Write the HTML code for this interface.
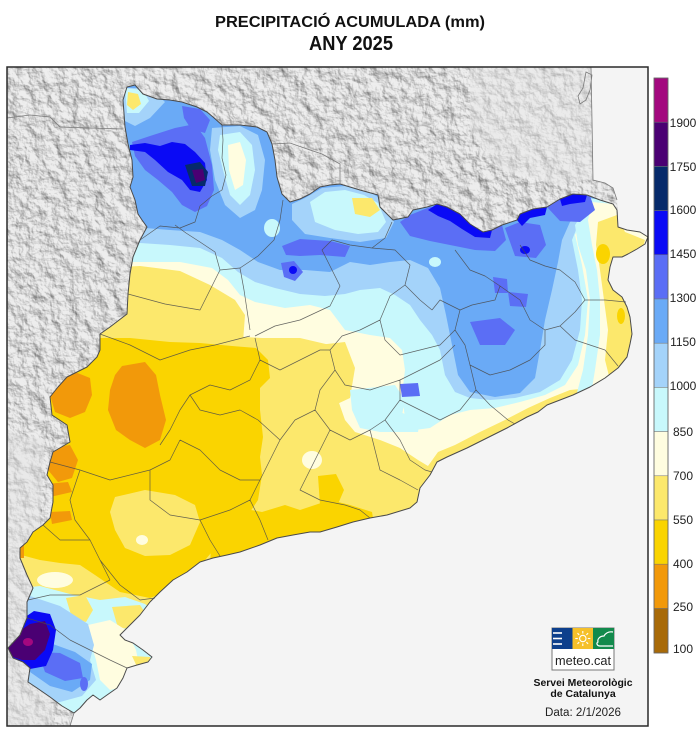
<!DOCTYPE html>
<html><head><meta charset="utf-8"><style>
html,body{margin:0;padding:0;background:#fff;}
svg{display:block;}
text{font-family:"Liberation Sans",Arial,sans-serif;}
</style></head><body>
<svg width="700" height="733" viewBox="0 0 700 733" xmlns="http://www.w3.org/2000/svg">
<defs>
<clipPath id="cat"><path d="M127,87 L135,85 L143,94 L157,99 L170,100 L182,102 L197,107 L207,112 L213,117 L222,125 L240,125 L257,127 L267,132 L272,144 L275,160 L277,177 L282,194 L290,202 L300,199 L310,194 L320,187 L330,185 L340,184 L360,190 L378,195 L380,207 L393,220 L408,217 L413,210 L427,207 L437,204 L447,207 L460,214 L470,224 L483,232 L492,230 L502,225 L517,220 L520,214 L533,209 L547,207 L560,199 L573,194 L587,195 L600,200 L613,204 L617,210 L618,227 L627,230 L640,232 L648,237 L645,244 L637,249 L628,254 L622,257 L613,257 L610,267 L608,280 L613,290 L622,297 L627,307 L630,317 L632,334 L630,344 L627,357 L618,368 L605,378 L590,387 L573,395 L560,400 L547,405 L538,412 L527,417 L507,428 L487,438 L467,448 L447,457 L437,462 L430,475 L420,488 L417,502 L410,508 L387,515 L370,518 L353,522 L337,527 L320,532 L310,532 L293,535 L277,538 L260,545 L240,552 L227,555 L213,558 L200,562 L187,572 L173,580 L160,592 L150,602 L140,615 L127,628 L120,635 L125,640 L133,643 L143,650 L152,657 L148,662 L137,665 L127,668 L123,678 L117,688 L107,695 L100,700 L93,695 L87,700 L80,708 L74,713 L62,706 L50,697 L37,688 L28,682 L30,668 L23,662 L13,658 L8,648 L20,635 L27,618 L27,602 L33,588 L27,575 L20,558 L20,548 L27,542 L33,532 L43,525 L50,518 L53,502 L53,485 L47,475 L50,462 L53,452 L70,442 L67,425 L52,415 L50,397 L58,387 L67,377 L87,367 L97,357 L100,350 L100,334 L110,327 L127,314 L128,294 L130,274 L133,257 L140,240 L147,227 L142,220 L138,214 L135,200 L130,187 L133,177 L132,160 L128,144 L125,127 L123,100 Z"/></clipPath>
<clipPath id="land"><path d="M7,67 L591,67 L592,120 L593,180 L605,183 L613,188 L617,200 L618,220 L500,300 L300,400 L100,600 L60,690 L74,713 L70,726 L7,726 Z"/></clipPath>
<filter id="hs" x="0" y="0" width="1" height="1" color-interpolation-filters="sRGB">
  <feTurbulence type="fractalNoise" baseFrequency="0.08" numOctaves="4" seed="7"/>
  <feDiffuseLighting surfaceScale="3" diffuseConstant="1.15" lighting-color="#f0f0f0">
    <feDistantLight azimuth="315" elevation="55"/>
  </feDiffuseLighting>
</filter>
</defs>

<rect width="700" height="733" fill="#ffffff"/>
<rect x="7" y="67" width="641" height="659" fill="#f4f4f4"/>
<g clip-path="url(#land)">
  <rect x="7" y="67" width="641" height="659" fill="#d4d4d4"/>
  <rect x="7" y="67" width="641" height="659" filter="url(#hs)" opacity="0.6"/>
  <path d="M7,430 L45,440 L35,600 L55,726 L7,726 Z" fill="#e6e6e6" opacity="0.5"/>
  <path d="M470,67 L591,67 L593,180 L560,185 L500,170 L470,130 Z" fill="#e6e6e6" opacity="0.45"/>
</g>

<g clip-path="url(#cat)">
  <rect x="0" y="60" width="660" height="680" fill="#fce86c"/>
  <path fill="#fad400" d="M95,338 L130,338 L170,342 L200,343 L232,346 L256,348 L268,360 L270,378 L260,388 L260,410 L263,437 L260,457 L262,475 L258,500 L250,512 L228,510 L215,522 L222,540 L200,566 L170,590 L150,598 L120,592 L95,575 L80,565 L60,563 L40,560 L25,556 L0,550 L0,360 L60,368 Z"/>
  <path fill="#fad400" d="M213,512 L240,508 L262,512 L285,505 L300,510 L330,500 L350,505 L372,512 L375,530 L330,540 L280,545 L240,560 L210,565 Z"/>
  <path fill="#fad400" d="M318,476 L336,474 L344,490 L338,504 L320,505 Z"/>
  <path fill="#fce86c" d="M115,497 L145,490 L175,495 L195,505 L200,522 L190,545 L170,555 L145,556 L125,548 L115,530 L110,512 Z"/>
  <ellipse cx="142" cy="540" rx="6" ry="5" fill="#fffde0"/>
  <ellipse cx="55" cy="580" rx="18" ry="8" fill="#fffde0"/>
  <g fill="#f2990a">
    <path d="M122,366 L145,362 L156,375 L160,395 L166,420 L160,440 L145,448 L130,440 L116,430 L108,410 L110,390 L115,375 Z"/>
    <path d="M58,378 L75,372 L90,378 L92,395 L85,412 L70,418 L55,412 L50,395 Z"/>
    <path d="M50,448 L70,445 L78,460 L72,478 L58,482 L48,470 Z"/>
    <path d="M46,484 L68,482 L72,492 L50,497 Z"/>
    <path d="M50,512 L70,511 L72,520 L52,524 Z"/>
    <path d="M18,544 L24,544 L24,558 L18,558 Z"/>
  </g>
  <ellipse cx="312" cy="460" rx="10" ry="9" fill="#fffde0"/>
  <path fill="#fffde0" d="M0,0 L700,0 L700,378 L570,390 L550,398 L528,408 L505,420 L480,432 L455,445 L438,452 L428,466 L418,460 L400,448 L380,440 L355,432 L345,420 L338,400 L340,370 L330,345 L300,338 L262,338 L230,336 L200,330 L170,325 L0,325 Z"/>
  <path fill="#fce86c" d="M318,345 L345,342 L355,368 L350,398 L335,405 L322,390 L315,365 Z"/>
  <path fill="#c8f8fc" d="M0,0 L700,0 L700,200 L620,202 L600,205 L585,215 L575,235 L582,265 L588,300 L585,335 L578,365 L565,385 L545,395 L520,402 L495,408 L470,410 L450,415 L430,428 L415,430 L405,418 L402,395 L405,370 L402,350 L390,338 L370,335 L345,330 L330,310 L310,305 L285,308 L255,302 L240,295 L228,280 L212,268 L180,262 L130,262 L0,262 Z"/>
  <path fill="#c8f8fc" d="M363,415 L400,412 L420,420 L418,432 L380,432 L365,425 Z"/>
  <path fill="#c8f8fc" d="M350,390 L395,385 L405,400 L400,425 L380,432 L360,428 L352,410 Z"/>
  <path fill="#fce86c" d="M100,268 L140,266 L180,271 L210,285 L235,300 L245,315 L243,342 L200,342 L130,337 L100,334 Z"/>
  <path fill="#a4d3fa" d="M0,0 L700,0 L700,200 L600,203 L582,215 L572,240 L578,270 L582,300 L580,330 L572,360 L560,380 L540,392 L515,398 L490,400 L470,398 L455,392 L445,375 L440,350 L432,335 L420,320 L410,305 L395,295 L380,288 L360,290 L345,294 L325,296 L300,294 L275,288 L255,282 L238,272 L222,258 L200,248 L170,245 L140,243 L0,243 Z"/>
  <path fill="#6aaaf6" d="M0,0 L700,0 L700,200 L600,203 L585,212 L570,222 L562,240 L558,262 L552,290 L545,320 L540,350 L535,378 L520,393 L495,397 L470,392 L458,375 L452,345 L446,315 L440,288 L428,268 L410,260 L390,262 L370,265 L350,262 L330,272 L305,270 L280,270 L258,262 L240,250 L222,240 L200,232 L170,230 L145,228 L0,228 Z"/>
  <path fill="#a4d3fa" d="M123,88 L150,88 L165,102 L150,118 L135,126 L123,120 Z"/>
  <path fill="#c8f8fc" d="M125,88 L143,90 L149,101 L139,113 L127,113 Z"/>
  <path fill="#fce86c" d="M128,92 L138,94 L141,104 L133,110 L127,105 Z"/>
  <path fill="#a4d3fa" d="M212,128 L240,126 L258,135 L265,160 L262,190 L255,210 L240,218 L225,205 L215,180 L210,150 Z"/>
  <path fill="#c8f8fc" d="M220,135 L240,132 L252,145 L255,170 L250,195 L240,205 L230,195 L223,170 L218,150 Z"/>
  <path fill="#fffde0" d="M228,145 L240,142 L246,160 L243,185 L235,190 L229,170 Z"/>
  <path fill="#a4d3fa" d="M292,204 L305,198 L322,188 L345,186 L368,191 L383,200 L394,222 L386,238 L360,242 L330,238 L305,234 L292,220 Z"/>
  <path fill="#c8f8fc" d="M310,202 L325,192 L345,190 L364,195 L378,203 L386,222 L378,232 L358,234 L335,230 L315,222 Z"/>
  <path fill="#fce86c" d="M352,198 L372,198 L380,210 L370,217 L355,214 Z"/>
  <ellipse cx="435" cy="262" rx="6" ry="5" fill="#c8f8fc"/>
  <ellipse cx="272" cy="228" rx="8" ry="9" fill="#c8f8fc"/>
  <path fill="#c8f8fc" d="M588,198 L605,200 L650,225 L650,400 L575,400 L583,370 L588,335 L590,300 L586,270 L578,245 L575,225 L585,210 Z"/>
  <path fill="#fffde0" d="M592,202 L613,204 L650,235 L650,400 L590,400 L595,370 L600,335 L600,300 L597,270 L592,245 L588,220 Z"/>
  <path fill="#fce86c" d="M598,222 L617,215 L625,232 L645,240 L640,258 L628,262 L620,272 L632,295 L636,320 L630,350 L622,372 L610,380 L605,360 L608,330 L604,300 L600,270 L596,245 Z"/>
  <ellipse cx="603" cy="254" rx="7" ry="10" fill="#fad400"/>
  <ellipse cx="621" cy="316" rx="4" ry="8" fill="#fad400"/>
  <g fill="#5b6ef5">
    <path d="M132,142 L150,136 L175,128 L195,124 L205,138 L212,165 L214,190 L207,206 L195,212 L182,205 L172,192 L158,180 L145,170 L135,156 Z"/>
    <path d="M182,106 L200,109 L210,120 L205,133 L191,129 L184,118 Z"/>
    <path d="M282,246 L300,239 L330,241 L350,246 L345,257 L320,255 L300,256 L286,255 Z"/>
    <path d="M281,263 L294,261 L303,272 L295,281 L284,277 Z"/>
    <path d="M400,222 L410,215 L430,207 L447,207 L460,214 L470,224 L483,232 L492,230 L502,225 L506,240 L495,251 L475,250 L455,246 L430,241 L410,236 Z"/>
    <path d="M505,228 L520,222 L540,225 L546,245 L536,258 L515,256 Z"/>
    <path d="M547,207 L560,199 L573,194 L590,196 L595,210 L580,222 L560,221 Z"/>
    <path d="M493,277 L507,279 L508,293 L495,293 Z"/>
    <path d="M508,292 L528,294 L526,307 L510,306 Z"/>
    <path d="M470,322 L500,318 L515,330 L505,345 L480,345 Z"/>
    <path d="M400,384 L418,383 L420,396 L402,397 Z"/>
  </g>
  <g fill="#0a0af5">
    <path d="M130,145 L145,143 L160,146 L172,142 L185,144 L195,152 L205,163 L207,180 L200,192 L190,190 L182,180 L168,172 L155,160 L145,152 L130,150 Z"/>
    <path d="M428,210 L437,204 L447,207 L460,214 L470,224 L483,232 L492,230 L490,238 L475,237 L462,229 L450,221 L438,216 Z"/>
    <path d="M517,220 L520,214 L533,209 L547,207 L545,215 L530,218 L522,226 Z"/>
    <path d="M560,199 L573,194 L587,195 L585,202 L570,204 L562,206 Z"/>
    <ellipse cx="525" cy="250" rx="5" ry="4"/>
    <ellipse cx="293" cy="270" rx="4" ry="4"/>
  </g>
  <path fill="#062a6b" d="M185,165 L200,162 L208,172 L205,186 L192,186 Z"/>
  <path fill="#4a0073" d="M192,170 L203,169 L205,180 L196,183 Z"/>
  <path fill="#c8f8fc" d="M0,590 L40,586 L70,594 L100,600 L125,597 L145,604 L165,620 L165,705 L0,730 Z"/>
  <path fill="#fce86c" d="M66,598 L85,595 L93,610 L86,622 L72,618 Z"/>
  <path fill="#fce86c" d="M112,607 L140,605 L150,620 L140,629 L118,628 Z"/>
  <path fill="#fffde0" d="M88,625 L110,620 L126,630 L136,650 L140,670 L127,686 L110,690 L100,680 L96,660 L90,640 Z"/>
  <path fill="#fce86c" d="M132,656 L150,657 L153,670 L140,673 Z"/>
  <path fill="#a4d3fa" d="M0,598 L30,596 L60,606 L88,624 L94,645 L90,660 L96,680 L82,696 L60,702 L40,702 L25,692 L0,692 Z"/>
  <path fill="#6aaaf6" d="M15,638 L50,643 L75,652 L92,664 L90,680 L72,692 L50,686 L30,672 L12,662 Z"/>
  <path fill="#5b6ef5" d="M38,652 L60,653 L80,663 L83,678 L65,681 L45,672 Z"/>
  <ellipse cx="84" cy="684" rx="4" ry="7" fill="#5b6ef5"/>
  <path fill="#0a0af5" d="M4,640 L18,622 L34,611 L50,614 L56,630 L53,650 L46,666 L30,669 L14,661 Z"/>
  <path fill="#4a0073" d="M7,646 L15,634 L30,624 L45,621 L50,634 L45,650 L35,660 L22,660 L10,656 Z"/>
  <ellipse cx="28" cy="642" rx="5" ry="4" fill="#a3087f"/>
</g>

<path fill="none" stroke="#4a4a4a" stroke-width="0.7" stroke-linejoin="round" opacity="0.85" d="
M140,240 L160,226 L180,228 L195,222 L200,206 L212,196 L222,190 L226,175 L222,158 L223,140 L222,125
M128,294 L165,304 L200,310 L210,290 L220,270 L215,252 L200,242 L186,233 L175,225
M220,270 L240,268 L258,256 L274,240 L280,220 L283,200
M250,330 L247,310 L244,290 L240,268
M255,336 L275,326 L300,320 L330,306 L340,286 L330,266 L322,250 L332,240 L350,245 L372,248 L385,238 L392,222
M372,248 L395,250 L410,265 L405,285 L420,300 L432,310
M405,285 L390,296 L380,320 L385,340 L400,355 L420,350 L440,345 L455,330 L460,310 L440,300 L432,310
M455,250 L470,270 L485,276 L500,286 L495,300 L472,305 L460,310
M520,245 L530,260 L545,266 L560,270 L575,282 L585,300 L605,300 L626,302
M500,286 L520,300 L530,320 L545,330 L560,326 L575,312 L585,300
M455,330 L465,345 L470,365 L490,375 L510,370 L530,360 L545,345 L545,330
M560,326 L575,340 L590,345 L605,350 L618,366
M470,365 L476,390 L490,405 L508,420 L515,424
M380,320 L360,330 L342,336 L330,350 L335,370 L345,385 L370,390 L400,380 L420,370 L440,360 L455,345
M335,370 L320,390 L315,410 L330,430 L350,440 L370,430 L385,420 L400,400 L400,380
M400,400 L420,410 L440,420 L460,410 L476,390
M385,420 L400,440 L410,460 L425,470 L432,472
M370,430 L375,450 L380,470 L400,480 L418,490
M330,430 L320,450 L310,470 L300,490 L320,500 L345,505 L360,510 L370,518
M315,410 L295,420 L280,440 L270,460 L260,480 L250,500 L260,520 L268,540
M255,338 L260,360 L250,380 L230,390 L210,385 L190,395 L180,410 L170,430 L160,445
M100,334 L130,345 L160,360 L190,350 L215,345 L250,336
M50,462 L80,470 L110,480 L150,470 L170,460 L180,440
M180,440 L200,450 L220,470 L240,480 L260,480
M80,470 L70,500 L75,520 L90,540 L100,560 L110,580
M150,470 L150,500 L170,515 L200,520 L230,510 L250,500
M200,520 L210,540 L220,556
M43,525 L60,540 L90,540
M100,560 L120,585 L140,600 L155,598
M110,580 L80,595 L50,595 L28,600
M27,618 L50,625 L70,640 L90,650 L110,660 L127,668
M190,395 L200,410 L220,415 L240,410 L258,420 L280,440
M260,360 L280,370 L300,360 L320,350 L330,350"/>

<path fill="none" stroke="#4a4a4a" stroke-width="1" stroke-linejoin="round" d="M127,87 L135,85 L143,94 L157,99 L170,100 L182,102 L197,107 L207,112 L213,117 L222,125 L240,125 L257,127 L267,132 L272,144 L275,160 L277,177 L282,194 L290,202 L300,199 L310,194 L320,187 L330,185 L340,184 L360,190 L378,195 L380,207 L393,220 L408,217 L413,210 L427,207 L437,204 L447,207 L460,214 L470,224 L483,232 L492,230 L502,225 L517,220 L520,214 L533,209 L547,207 L560,199 L573,194 L587,195 L600,200 L613,204 L617,210 L618,227 L627,230 L640,232 L648,237 L645,244 L637,249 L628,254 L622,257 L613,257 L610,267 L608,280 L613,290 L622,297 L627,307 L630,317 L632,334 L630,344 L627,357 L618,368 L605,378 L590,387 L573,395 L560,400 L547,405 L538,412 L527,417 L507,428 L487,438 L467,448 L447,457 L437,462 L430,475 L420,488 L417,502 L410,508 L387,515 L370,518 L353,522 L337,527 L320,532 L310,532 L293,535 L277,538 L260,545 L240,552 L227,555 L213,558 L200,562 L187,572 L173,580 L160,592 L150,602 L140,615 L127,628 L120,635 L125,640 L133,643 L143,650 L152,657 L148,662 L137,665 L127,668 L123,678 L117,688 L107,695 L100,700 L93,695 L87,700 L80,708 L74,713 L62,706 L50,697 L37,688 L28,682 L30,668 L23,662 L13,658 L8,648 L20,635 L27,618 L27,602 L33,588 L27,575 L20,558 L20,548 L27,542 L33,532 L43,525 L50,518 L53,502 L53,485 L47,475 L50,462 L53,452 L70,442 L67,425 L52,415 L50,397 L58,387 L67,377 L87,367 L97,357 L100,350 L100,334 L110,327 L127,314 L128,294 L130,274 L133,257 L140,240 L147,227 L142,220 L138,214 L135,200 L130,187 L133,177 L132,160 L128,144 L125,127 L123,100 Z"/>

<path fill="none" stroke="#7a7a7a" stroke-width="0.8" d="M7,118 L30,115 L50,117 L60,127 L90,128 L123,129 M272,144 L290,143 L310,150 L322,154 L340,164 L340,184 M591,67 L592,120 L593,180 L605,183 L613,188 L617,200 M586,72 L592,75 L590,90 L586,100 L580,104 L578,96 L583,88 Z M74,713 L70,726"/>

<rect x="7" y="67" width="641" height="659" fill="none" stroke="#2a2a2a" stroke-width="1.5"/>

<text x="350" y="27" text-anchor="middle" font-size="16" font-weight="bold" fill="#111" textLength="270" lengthAdjust="spacingAndGlyphs">PRECIPITACIÓ ACUMULADA (mm)</text>
<text x="351" y="50" text-anchor="middle" font-size="20" font-weight="bold" fill="#111" textLength="84" lengthAdjust="spacingAndGlyphs">ANY 2025</text>

<g stroke="#777" stroke-width="0.5">
  <rect x="654" y="78" width="14" height="44.2" fill="#a3087f"/>
  <rect x="654" y="122.2" width="14" height="44.2" fill="#4a0073"/>
  <rect x="654" y="166.4" width="14" height="44.2" fill="#062a6b"/>
  <rect x="654" y="210.6" width="14" height="44.2" fill="#0a0af5"/>
  <rect x="654" y="254.8" width="14" height="44.2" fill="#5b6ef5"/>
  <rect x="654" y="299" width="14" height="44.2" fill="#6aaaf6"/>
  <rect x="654" y="343.2" width="14" height="44.2" fill="#a4d3fa"/>
  <rect x="654" y="387.4" width="14" height="44.2" fill="#c8f8fc"/>
  <rect x="654" y="431.6" width="14" height="44.2" fill="#fffde0"/>
  <rect x="654" y="475.8" width="14" height="44.2" fill="#fce86c"/>
  <rect x="654" y="520" width="14" height="44.2" fill="#fad400"/>
  <rect x="654" y="564.2" width="14" height="44.2" fill="#f2990a"/>
  <rect x="654" y="608.4" width="14" height="44.6" fill="#a86a08"/>
</g>
<rect x="654" y="78" width="14" height="575" fill="none" stroke="#666" stroke-width="0.8"/>
<g font-size="12" fill="#222" text-anchor="middle">
  <text x="683" y="127">1900</text>
  <text x="683" y="171">1750</text>
  <text x="683" y="214">1600</text>
  <text x="683" y="258">1450</text>
  <text x="683" y="302">1300</text>
  <text x="683" y="346">1150</text>
  <text x="683" y="390">1000</text>
  <text x="683" y="436">850</text>
  <text x="683" y="480">700</text>
  <text x="683" y="524">550</text>
  <text x="683" y="568">400</text>
  <text x="683" y="611">250</text>
  <text x="683" y="653">100</text>
</g>

<rect x="552" y="628" width="62" height="42" fill="#fff" stroke="#777" stroke-width="1"/>
<rect x="552" y="628" width="20.5" height="21" fill="#0d3f8c"/>
<g stroke="#fff" stroke-width="1.6">
  <line x1="553" y1="633" x2="562" y2="633"/>
  <line x1="553" y1="638.5" x2="562" y2="638.5"/>
  <line x1="553" y1="644" x2="562" y2="644"/>
</g>
<rect x="572.5" y="628" width="20.5" height="21" fill="#f5c02a"/>
<g stroke="#fff" stroke-width="1.1">
  <circle cx="582.8" cy="638.5" r="3.2" fill="none"/>
  <line x1="582.8" y1="631" x2="582.8" y2="633.5"/>
  <line x1="582.8" y1="643.5" x2="582.8" y2="646"/>
  <line x1="575.3" y1="638.5" x2="577.8" y2="638.5"/>
  <line x1="587.8" y1="638.5" x2="590.3" y2="638.5"/>
  <line x1="577.5" y1="633.2" x2="579.2" y2="634.9"/>
  <line x1="586.4" y1="642.1" x2="588.1" y2="643.8"/>
  <line x1="577.5" y1="643.8" x2="579.2" y2="642.1"/>
  <line x1="586.4" y1="634.9" x2="588.1" y2="633.2"/>
</g>
<rect x="593" y="628" width="21" height="21" fill="#128a4c"/>
<path d="M613,632 C608,631 605,634 604,636 C600,636 597,639 598,642 C596,643 597,646 600,646 L613,646" fill="none" stroke="#fff" stroke-width="1.2"/>
<text x="583" y="665" text-anchor="middle" font-size="13" fill="#222" textLength="56" lengthAdjust="spacingAndGlyphs">meteo.cat</text>

<text x="583" y="686" text-anchor="middle" font-size="10.5" font-weight="bold" fill="#111" textLength="99" lengthAdjust="spacingAndGlyphs">Servei Meteorològic</text>
<text x="583" y="697" text-anchor="middle" font-size="10.5" font-weight="bold" fill="#111">de Catalunya</text>
<text x="583" y="716" text-anchor="middle" font-size="11.5" fill="#222" textLength="76" lengthAdjust="spacingAndGlyphs">Data: 2/1/2026</text>
</svg>
</body></html>
